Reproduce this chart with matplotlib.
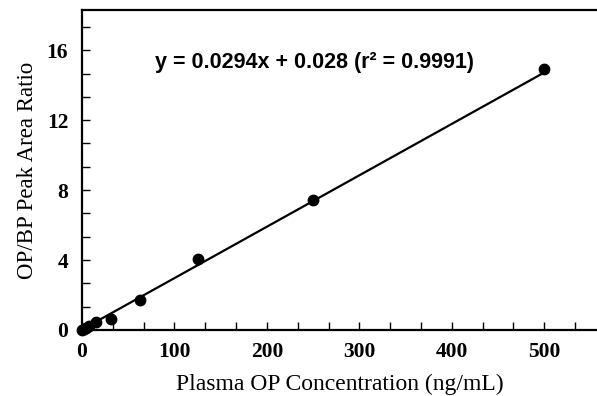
import numpy as np
import matplotlib.pyplot as plt
from matplotlib.ticker import MultipleLocator

# calibration standards (ng/mL) and measured OP/BP peak area ratios
conc = [0, 1.95, 3.9, 7.8, 15.6, 31.25, 62.5, 125, 250, 500]
ratio = [0.0, 0.05, 0.1, 0.2, 0.45, 0.65, 1.7, 4.05, 7.45, 14.9]

slope = 0.0294
intercept = 0.028
eq_text = "y = 0.0294x + 0.028 (r\u00b2 = 0.9991)"

plt.rcParams['font.family'] = 'Liberation Serif'

fig = plt.figure(figsize=(5.97, 3.96), dpi=100)
ax = fig.add_axes([0.1374, 0.1667, 0.8626, 0.808])

# regression line
xs = np.array([0, 500])
ax.plot(xs, slope * xs + intercept, color='black', lw=1.6)
ax.plot(conc, ratio, 'o', color='black', ms=7.5, clip_on=False, zorder=5)

ax.set_xlim(0, 557)
ax.set_ylim(0, 18.3)
ax.xaxis.set_major_locator(MultipleLocator(100))
ax.xaxis.set_minor_locator(MultipleLocator(100 / 3))
ax.yaxis.set_major_locator(MultipleLocator(4))
ax.yaxis.set_minor_locator(MultipleLocator(4 / 3))
ax.tick_params(which='both', direction='in', length=6, width=1.0)
ax.tick_params(axis='x', pad=9)
ax.tick_params(axis='y', pad=10)
for lbl in ax.get_xticklabels() + ax.get_yticklabels():
    lbl.set_fontweight('bold')
    lbl.set_fontsize(15.5)

ax.spines['right'].set_visible(False)
for s in ['left', 'bottom', 'top']:
    ax.spines[s].set_linewidth(1.6)

ax.set_xlabel('Plasma OP Concentration (ng/mL)', fontsize=17, labelpad=8)
ax.set_ylabel('OP/BP Peak Area Ratio', fontsize=16.5, labelpad=6)

ax.text(0.142, 0.8375, eq_text, transform=ax.transAxes, fontsize=15.5,
        fontweight='bold', family='Liberation Sans', ha='left', va='center')

fig.savefig('out.png', dpi=100)
